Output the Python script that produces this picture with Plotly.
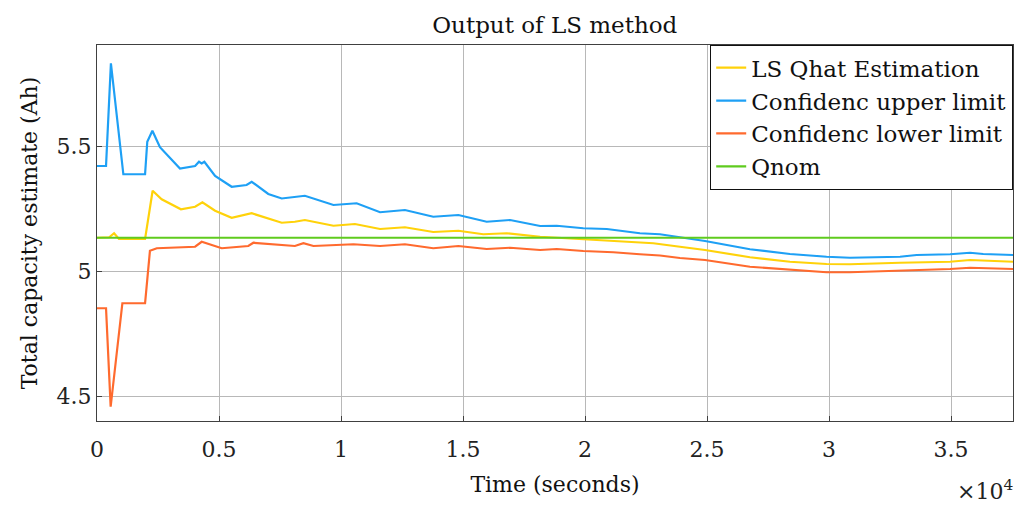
import plotly.graph_objects as go

# Upper confidence limit (time in s, capacity in Ah)
t_upper = [0, 370, 570, 1080, 1970, 2060, 2270, 2580, 3400, 4020, 4180, 4290, 4400,
           4840, 5520, 6130, 6340, 7020, 7570, 8110, 8520, 9690, 10640, 11600, 12620,
           13780, 14810, 15970, 16930, 18160, 18840, 19930, 20890, 22250, 23070, 24920,
           26760, 28400, 29900, 30860, 32910, 33590, 34960, 35780, 36320, 37540]
q_upper = [5.42, 5.42, 5.831, 5.387, 5.387, 5.517, 5.561, 5.495, 5.41, 5.42, 5.437, 5.43, 5.437,
           5.38, 5.337, 5.344, 5.357, 5.308, 5.29, 5.297, 5.301, 5.264, 5.271, 5.235, 5.244,
           5.217, 5.224, 5.197, 5.204, 5.18, 5.181, 5.171, 5.168, 5.151, 5.147, 5.12,
           5.087, 5.068, 5.057, 5.053, 5.057, 5.064, 5.067, 5.073, 5.068, 5.064]

# LS Qhat estimate
t_est = [0, 500, 700, 900, 1970, 2280, 2650, 3440, 4020, 4320, 4840, 5520, 6340, 7570,
         8110, 8520, 9690, 10570, 11600, 12620, 13780, 14810, 15830, 16790, 18160, 19800,
         21160, 22800, 23890, 24920, 26760, 28400, 29900, 30860, 32910, 34960, 35780, 37540]
q_est = [5.133, 5.135, 5.151, 5.128, 5.128, 5.321, 5.287, 5.247, 5.257, 5.275, 5.241, 5.213, 5.231, 5.193,
         5.197, 5.204, 5.181, 5.188, 5.168, 5.175, 5.156, 5.161, 5.147, 5.151, 5.137, 5.128,
         5.121, 5.111, 5.097, 5.084, 5.055, 5.037, 5.028, 5.027, 5.033, 5.037, 5.044, 5.037]

# Lower confidence limit
t_lower = [0, 370, 560, 1040, 1970, 2170, 2450, 4020, 4290, 5110, 6200, 6410, 8110, 8460,
           8870, 10510, 11600, 12620, 13780, 14810, 15970, 16930, 18160, 18840, 19930, 21160,
           22250, 23070, 23890, 24920, 26760, 28400, 29900, 30860, 32910, 34960, 35780, 37540]
q_lower = [4.851, 4.851, 4.457, 4.871, 4.871, 5.081, 5.091, 5.097, 5.117, 5.091, 5.1, 5.113, 5.1, 5.111,
           5.1, 5.107, 5.1, 5.107, 5.091, 5.1, 5.088, 5.093, 5.084, 5.088, 5.08, 5.075,
           5.067, 5.062, 5.052, 5.044, 5.017, 5.004, 4.995, 4.995, 5.001, 5.008, 5.013, 5.008]

# Nominal capacity
t_nom = [0, 37540]
q_nom = [5.133, 5.133]

x_ticks = [0, 5000, 10000, 15000, 20000, 25000, 30000, 35000]
x_tick_labels = ["0", "0.5", "1", "1.5", "2", "2.5", "3", "3.5"]
y_ticks = [4.5, 5, 5.5]
y_tick_labels = ["4.5", "5", "5.5"]

FONT = "DejaVu Serif"
TEXT = "#111111"

fig = go.Figure()
fig.add_trace(go.Scatter(x=t_est, y=q_est, mode="lines", name="LS Qhat Estimation",
                         line=dict(color="#FFD20A", width=2.2)))
fig.add_trace(go.Scatter(x=t_upper, y=q_upper, mode="lines", name="Confidenc upper limit",
                         line=dict(color="#1EA0F5", width=2.2)))
fig.add_trace(go.Scatter(x=t_lower, y=q_lower, mode="lines", name="Confidenc lower limit",
                         line=dict(color="#FF6A2E", width=2.2)))
fig.add_trace(go.Scatter(x=t_nom, y=q_nom, mode="lines", name="Qnom",
                         line=dict(color="#5FCB1E", width=2.2)))

axis_common = dict(
    showline=True, linecolor="#404040", linewidth=1.2, mirror=True,
    showgrid=True, gridcolor="#b8b8b8", gridwidth=1,
    ticks="inside", ticklen=5, tickcolor="#404040",
    zeroline=False,
    tickfont=dict(family=FONT, size=22, color="#222222"),
)

fig.update_layout(
    width=1017, height=505,
    margin=dict(l=97, r=4, t=45, b=84),
    paper_bgcolor="white", plot_bgcolor="white",
    font=dict(family=FONT, size=22, color=TEXT),
    title=dict(text="Output of LS method", x=0.5455, xanchor="center",
               y=1 - 25 / 505, yref="container", yanchor="middle",
               font=dict(family=FONT, size=23, color=TEXT)),
    xaxis=dict(range=[0, 37540], tickvals=x_ticks, ticktext=x_tick_labels,
               ticklabelstandoff=8,
               title=dict(text="Time (seconds)", font=dict(family=FONT, size=22), standoff=16),
               **axis_common),
    yaxis=dict(range=[4.4, 5.904], tickvals=y_ticks, ticktext=y_tick_labels,
               title=dict(text="Total capacity estimate (Ah)", font=dict(family=FONT, size=22), standoff=12),
               **axis_common),
    legend=dict(x=1, y=1, xanchor="right", yanchor="top",
                bgcolor="white", bordercolor=TEXT, borderwidth=1.2,
                font=dict(family=FONT, size=23, color=TEXT),
                tracegroupgap=0),
    showlegend=True,
)

# exponent marker for the time axis
fig.add_annotation(text="×10<sup>4</sup>", xref="paper", yref="paper",
                   x=1.002, y=-0.226, xanchor="right", yanchor="bottom", showarrow=False,
                   font=dict(family=FONT, size=22, color="#222222"))

fig.write_html("out.html")
